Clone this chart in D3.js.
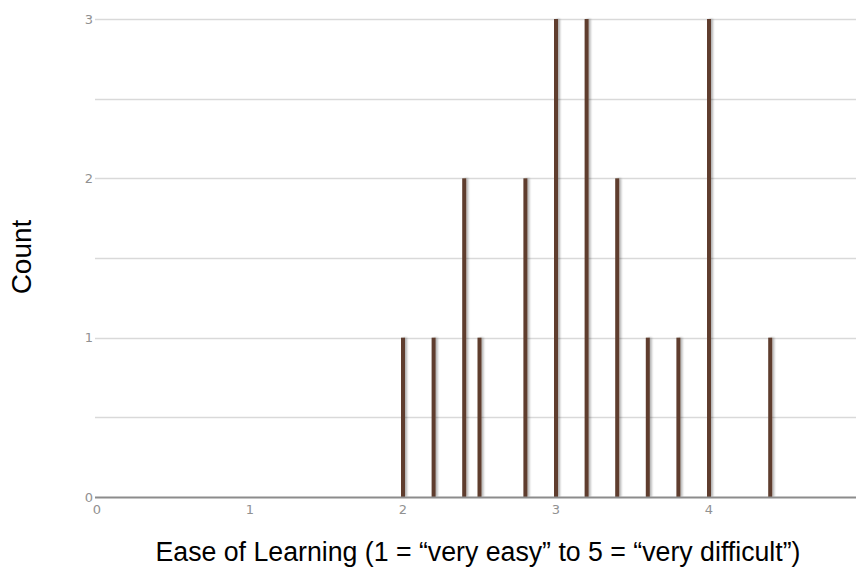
<!DOCTYPE html>
<html><head><meta charset="utf-8">
<script src="https://cdn.jsdelivr.net/npm/d3@7"></script>
<style>body{margin:0;background:#fff;} svg{display:block;}</style>
</head><body>
<script>
const categories = [2, 2.2, 2.4, 2.5, 2.8, 3, 3.2, 3.4, 3.6, 3.8, 4, 4.4];
const counts     = [1, 1,   2,   1,   2,   3, 3,   2,   1,   1,   3, 1];
const xTicks = [0, 1, 2, 3, 4];
const yTicks = [0, 1, 2, 3];
const yGrid = [0.5, 1, 1.5, 2, 2.5, 3];

const W = 856, H = 578;
const svg = d3.select("body").append("svg").attr("width", W).attr("height", H);
const x = d3.scaleLinear().domain([0, 5]).range([97, 862]);
const y = d3.scaleLinear().domain([0, 3]).range([497, 19]);

const defs = svg.append("defs");
const f = defs.append("filter").attr("id","sh").attr("x","-100%").attr("width","300%");
f.append("feGaussianBlur").attr("in","SourceAlpha").attr("stdDeviation",0.8).attr("result","b");
f.append("feOffset").attr("in","b").attr("dx",2).attr("dy",0).attr("result","o");
f.append("feComponentTransfer").attr("in","o").attr("result","o2")
  .append("feFuncA").attr("type","linear").attr("slope",0.3);
const m = f.append("feMerge");
m.append("feMergeNode").attr("in","o2");
m.append("feMergeNode").attr("in","SourceGraphic");

// gridlines
svg.append("g").selectAll("line").data(yGrid).join("line")
  .attr("x1", 95).attr("x2", W)
  .attr("y1", d => Math.round(y(d)) + 0.5).attr("y2", d => Math.round(y(d)) + 0.5)
  .attr("stroke", "#d9d9d9").attr("stroke-width", 1.3);

// y tick labels
svg.append("g").selectAll("text").data(yTicks).join("text")
  .attr("x", 93).attr("y", d => y(d) + 4.5)
  .attr("text-anchor", "end")
  .attr("font-family", "DejaVu Sans, sans-serif").attr("font-size", 13)
  .attr("fill", "#919191").text(d => d);

// bars
svg.append("g").selectAll("rect").data(categories).join("rect")
  .attr("x", d => x(d) - 2)
  .attr("width", 4)
  .attr("y", (d, i) => y(counts[i]))
  .attr("height", (d, i) => y(0) - y(counts[i]))
  .attr("fill", "#5e3d2e")
  .attr("filter", "url(#sh)");

// x axis line
svg.append("line").attr("x1", 95).attr("x2", W).attr("y1", 497.5).attr("y2", 497.5)
  .attr("stroke", "#8c8c8c").attr("stroke-width", 2);

// x tick labels
svg.append("g").selectAll("text").data(xTicks).join("text")
  .attr("x", d => x(d)).attr("y", 514)
  .attr("text-anchor", "middle")
  .attr("font-family", "DejaVu Sans, sans-serif").attr("font-size", 13)
  .attr("fill", "#919191").text(d => d);

// axis titles
svg.append("text").attr("transform", "translate(31,257) rotate(-90)")
  .attr("text-anchor", "middle").attr("font-family", "Liberation Sans, Arial, sans-serif")
  .attr("font-size", 28).attr("fill", "#000").text("Count");
svg.append("text").attr("x", 478).attr("y", 561)
  .attr("text-anchor", "middle").attr("font-family", "Liberation Sans, Arial, sans-serif")
  .attr("font-size", 27).attr("fill", "#000")
  .attr("textLength", 645).attr("lengthAdjust", "spacingAndGlyphs")
  .text("Ease of Learning (1 = \u201cvery easy\u201d to 5 = \u201cvery difficult\u201d)");
</script>
</body></html>
